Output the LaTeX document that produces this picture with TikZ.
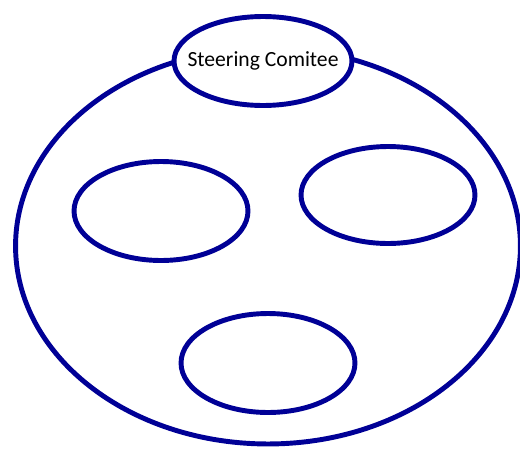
\documentclass[tikz,border=0pt]{standalone}
\usepackage{fontspec}
\setmainfont{Carlito}
\usepackage{xcolor}
\usepackage{tikz}
\usetikzlibrary{shapes.geometric}

\definecolor{ringblue}{RGB}{0,0,150}

\begin{document}
\begin{tikzpicture}[x=0.02cm, y=-0.02cm,
    ring/.style={ellipse, draw=ringblue, line width=2.8pt, fill=white, inner sep=0pt},
    group/.style={ring, minimum width=3.48cm, minimum height=1.98cm}]
    % Rahmen
    \useasboundingbox (0,0) rectangle (520,450);

    % grosse Ellipse
    \node[ring, minimum width=10.1cm, minimum height=7.92cm] (all) at (268,246) {};

    % Gruppen
    \node[group] (left) at (161,211) {};
    \node[group, minimum height=1.94cm] (right) at (388,195) {};
    \node[group] (bottom) at (268,363) {};

    % Steering Comitee oben
    \node[ring, minimum width=3.56cm, minimum height=1.78cm,
        label={[font=\fontsize{12.3}{14}\selectfont]center:Steering Comitee}]
        (steer) at (263,61) {};
\end{tikzpicture}
\end{document}
